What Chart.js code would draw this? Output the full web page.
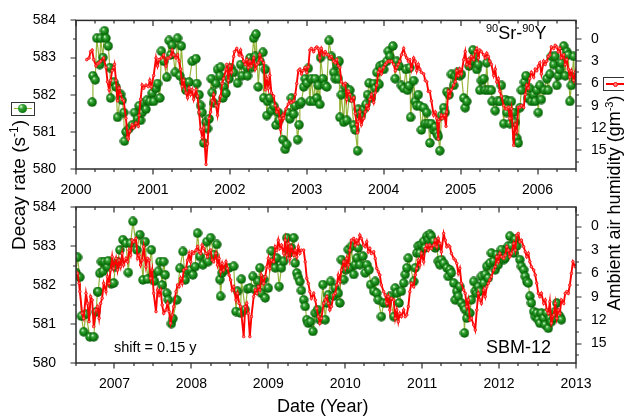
<!DOCTYPE html>
<html>
<head>
<meta charset="utf-8">
<script src="https://cdn.jsdelivr.net/npm/chart.js@4.4.1/dist/chart.umd.min.js"></script>
<style>
  body { margin: 0; background: #fff; }
  #wrap { position: relative; width: 624px; height: 420px; overflow: hidden; font-family: "Liberation Sans", Arial, sans-serif; color: #000; }
  canvas { position: absolute; left: 0; top: 0; }
  .txt { position: absolute; white-space: nowrap; line-height: 18px; font-size: 18px; }
  .rot { transform: translate(-50%, -50%) rotate(-90deg); }
  .sup { font-size: 11px; position: relative; top: -7px; }
</style>
</head>
<body>
<div id="wrap">
  <canvas id="chartBottom" width="624" height="420"></canvas>
  <canvas id="chartTop" width="624" height="420"></canvas>

  <div class="txt" style="left:486px; top:24px;"><span class="sup">90</span>Sr-<span class="sup">90</span>Y</div>
  <div class="txt" style="left:486px; top:338px;">SBM-12</div>
  <div class="txt" style="left:114px; top:340px; font-size:14.5px; line-height:15px;">shift = 0.15 y</div>
  <div class="txt" style="left:277px; top:397px;">Date (Year)</div>
  <div class="txt rot" style="left:20px; top:185px; font-size:19px; line-height:19px;">Decay rate (s<span class="sup" style="font-size:12px;">-1</span>)</div>
  <div class="txt rot" style="left:615px; top:203px;">Ambient air humidity (gm<span class="sup">-3</span>)</div>

  <div style="position:absolute; left:11px; top:102px; width:22px; height:12px; border:1px solid #333;">
    <div style="position:absolute; left:2px; right:2px; top:5px; height:1px; background:#95b53a;"></div>
    <div style="position:absolute; left:6px; top:1px; width:9px; height:9px; border-radius:50%; background:radial-gradient(circle at 35% 30%, #e8ffe0 0%, #3aa63a 25%, #0c7a0c 70%, #064f06 100%);"></div>
  </div>
  <div style="position:absolute; left:603px; top:77px; width:24px; height:12px; border:1px solid #333;">
    <div style="position:absolute; left:2px; right:0; top:5px; height:2px; background:#ff0000;"></div>
    <div style="position:absolute; left:9px; top:4px; width:3px; height:3px; border-radius:50%; border:1px solid #ff0000; background:#ff8080;"></div>
  </div>
</div>

<script>
// ---- tick labels ----
const topYears = [2000, 2001, 2002, 2003, 2004, 2005, 2006];
const botYears = [2007, 2008, 2009, 2010, 2011, 2012, 2013];
const rateTicks = [580, 581, 582, 583, 584];
const humTicks = [0, 3, 6, 9, 12, 15];

// ---- 90Sr-90Y decay rate, 2000 - 2006.5 ----
const topRateYear = [
  2000.21, 2000.22, 2000.25, 2000.27, 2000.31, 2000.32, 2000.35, 2000.37, 2000.39, 2000.42,
  2000.44, 2000.45, 2000.49, 2000.52, 2000.54, 2000.58, 2000.60, 2000.62, 2000.63, 2000.65,
  2000.69, 2000.73, 2000.76, 2000.80, 2000.82, 2000.84, 2000.86, 2000.88, 2000.91, 2000.92,
  2000.96, 2000.99, 2001.01, 2001.04, 2001.06, 2001.09, 2001.11, 2001.14, 2001.18, 2001.21,
  2001.23, 2001.25, 2001.29, 2001.32, 2001.35, 2001.37, 2001.40, 2001.43, 2001.47, 2001.51,
  2001.56, 2001.57, 2001.60, 2001.62, 2001.64, 2001.66, 2001.69, 2001.71, 2001.73, 2001.76,
  2001.77, 2001.79, 2001.82, 2001.84, 2001.87, 2001.88, 2001.91, 2001.92, 2001.95, 2001.99,
  2002.01, 2002.05, 2002.10, 2002.14, 2002.16, 2002.22, 2002.23, 2002.26, 2002.28, 2002.31,
  2002.33, 2002.34, 2002.37, 2002.39, 2002.43, 2002.44, 2002.46, 2002.48, 2002.49, 2002.52,
  2002.54, 2002.57, 2002.60, 2002.63, 2002.64, 2002.69, 2002.72, 2002.74, 2002.76, 2002.78,
  2002.80, 2002.83, 2002.85, 2002.88, 2002.90, 2002.91, 2002.93, 2002.96, 2002.98, 2003.00,
  2003.02, 2003.04, 2003.06, 2003.09, 2003.11, 2003.13, 2003.15, 2003.17, 2003.18, 2003.21,
  2003.24, 2003.26, 2003.29, 2003.32, 2003.35, 2003.37, 2003.39, 2003.41, 2003.42, 2003.43,
  2003.45, 2003.48, 2003.50, 2003.52, 2003.56, 2003.58, 2003.61, 2003.63, 2003.66, 2003.67,
  2003.69, 2003.71, 2003.74, 2003.77, 2003.79, 2003.81, 2003.84, 2003.87, 2003.89, 2003.91,
  2003.94, 2003.95, 2003.99, 2004.00, 2004.04, 2004.06, 2004.08, 2004.12, 2004.15, 2004.17,
  2004.20, 2004.23, 2004.26, 2004.29, 2004.31, 2004.33, 2004.34, 2004.35, 2004.39, 2004.41,
  2004.43, 2004.45, 2004.47, 2004.49, 2004.52, 2004.54, 2004.56, 2004.58, 2004.60, 2004.62,
  2004.65, 2004.67, 2004.69, 2004.71, 2004.73, 2004.75, 2004.78, 2004.80, 2004.82, 2004.85,
  2004.88, 2004.91, 2004.93, 2004.96, 2004.99, 2005.01, 2005.04, 2005.06, 2005.08, 2005.11,
  2005.14, 2005.16, 2005.19, 2005.21, 2005.23, 2005.25, 2005.27, 2005.30, 2005.32, 2005.34,
  2005.36, 2005.40, 2005.41, 2005.45, 2005.48, 2005.51, 2005.53, 2005.56, 2005.58, 2005.60,
  2005.62, 2005.64, 2005.66, 2005.69, 2005.71, 2005.73, 2005.75, 2005.77, 2005.79, 2005.83,
  2005.85, 2005.87, 2005.90, 2005.92, 2005.95, 2005.97, 2005.99, 2006.01, 2006.03, 2006.05,
  2006.09, 2006.12, 2006.14, 2006.16, 2006.18, 2006.21, 2006.23, 2006.25, 2006.27, 2006.29,
  2006.31, 2006.34, 2006.36, 2006.38, 2006.40, 2006.42, 2006.44, 2006.47, 2006.48
];
const topRate = [
  581.80, 582.51, 582.40, 583.52, 582.81, 583.52, 583.00, 583.72, 583.52, 583.31,
  582.73, 581.91, 582.34, 582.21, 581.39, 582.01, 581.85, 581.52, 580.75, 581.00,
  581.09, 581.18, 581.52, 581.35, 581.70, 581.31, 581.52, 581.78, 581.61, 581.85,
  581.82, 582.04, 581.82, 582.17, 582.30, 581.91, 583.17, 582.90, 582.47, 583.46,
  583.07, 583.33, 582.60, 583.52, 582.51, 583.31, 582.34, 582.12, 582.34, 582.90,
  582.97, 582.30, 582.00, 581.71, 581.52, 580.70, 581.26, 581.09, 581.35, 582.43,
  582.06, 581.78, 582.30, 582.68, 582.51, 582.74, 581.91, 582.21, 582.04, 582.43,
  582.73, 582.60, 582.31, 582.81, 582.51, 582.73, 582.51, 582.99, 582.73, 583.52,
  583.03, 583.63, 582.21, 582.90, 583.14, 581.91, 582.68, 581.44, 581.82, 581.91,
  581.57, 581.70, 581.18, 581.52, 581.31, 580.79, 580.53, 580.66, 581.52, 581.35,
  581.91, 581.48, 581.70, 580.79, 581.19, 581.74, 581.80, 582.21, 582.43, 582.31,
  582.71, 581.82, 582.43, 581.82, 582.43, 581.91, 582.25, 581.74, 583.00, 582.43,
  582.25, 582.21, 583.46, 583.03, 582.60, 582.43, 582.81, 582.43, 582.90, 581.39,
  582.00, 581.26, 582.21, 581.31, 582.12, 581.91, 581.18, 581.05, 580.49, 581.61,
  581.48, 581.44, 581.61, 581.74, 582.00, 582.31, 581.91, 582.30, 582.17, 582.60,
  582.28, 582.77, 582.81, 582.68, 582.90, 583.17, 583.03, 583.31, 582.43, 582.90,
  582.77, 582.25, 582.17, 582.68, 582.12, 582.24, 582.73, 581.39, 582.38, 581.82,
  581.70, 582.00, 581.70, 581.05, 581.65, 581.22, 581.52, 581.22, 580.70, 581.22,
  581.05, 581.13, 580.96, 580.88, 580.49, 581.44, 581.65, 581.52, 582.08, 582.00,
  582.55, 582.25, 582.51, 582.60, 582.51, 582.55, 581.91, 581.65, 581.82, 582.77,
  582.90, 583.20, 583.03, 582.68, 582.81, 582.12, 582.38, 582.43, 582.12, 582.86,
  582.12, 582.12, 581.82, 581.57, 581.82, 581.82, 582.25, 581.22, 581.87, 581.52,
  581.82, 581.22, 581.82, 581.52, 581.26, 580.83, 580.70, 581.65, 582.12, 582.34,
  582.51, 581.91, 582.17, 581.82, 582.00, 581.82, 582.12, 581.52, 582.25, 581.87,
  582.12, 582.43, 582.12, 582.55, 583.03, 582.81, 583.03, 582.25, 582.51, 582.68,
  582.86, 583.31, 582.51, 583.16, 583.07, 581.82, 582.25, 583.03, 582.47
];

// ---- ambient air humidity (g m^-3), 2000 - 2006.5 ----
const topHumYear = [
  2000.14, 2000.17, 2000.19, 2000.21, 2000.23, 2000.26, 2000.28, 2000.30, 2000.32, 2000.36,
  2000.39, 2000.41, 2000.43, 2000.45, 2000.47, 2000.49, 2000.50, 2000.52, 2000.54, 2000.56,
  2000.58, 2000.60, 2000.62, 2000.65, 2000.67, 2000.68, 2000.70, 2000.73, 2000.75, 2000.78,
  2000.81, 2000.82, 2000.84, 2000.86, 2000.88, 2000.91, 2000.94, 2000.96, 2000.98, 2001.01,
  2001.04, 2001.06, 2001.08, 2001.11, 2001.14, 2001.17, 2001.19, 2001.21, 2001.23, 2001.25,
  2001.27, 2001.30, 2001.32, 2001.34, 2001.36, 2001.38, 2001.40, 2001.43, 2001.45, 2001.47,
  2001.49, 2001.51, 2001.53, 2001.56, 2001.58, 2001.60, 2001.62, 2001.64, 2001.66, 2001.69,
  2001.71, 2001.73, 2001.75, 2001.77, 2001.79, 2001.82, 2001.84, 2001.86, 2001.88, 2001.90,
  2001.92, 2001.95, 2001.96, 2001.98, 2002.00, 2002.02, 2002.05, 2002.06, 2002.09, 2002.12,
  2002.14, 2002.16, 2002.18, 2002.20, 2002.22, 2002.24, 2002.26, 2002.28, 2002.31, 2002.33,
  2002.35, 2002.37, 2002.39, 2002.41, 2002.44, 2002.46, 2002.48, 2002.50, 2002.52, 2002.54,
  2002.57, 2002.59, 2002.61, 2002.63, 2002.65, 2002.66, 2002.69, 2002.70, 2002.73, 2002.76,
  2002.78, 2002.80, 2002.83, 2002.85, 2002.87, 2002.89, 2002.91, 2002.93, 2002.95, 2002.98,
  2003.00, 2003.02, 2003.04, 2003.06, 2003.09, 2003.11, 2003.13, 2003.15, 2003.17, 2003.19,
  2003.22, 2003.24, 2003.26, 2003.28, 2003.30, 2003.32, 2003.35, 2003.37, 2003.39, 2003.41,
  2003.43, 2003.45, 2003.48, 2003.50, 2003.52, 2003.54, 2003.56, 2003.58, 2003.61, 2003.63,
  2003.65, 2003.66, 2003.67, 2003.69, 2003.71, 2003.74, 2003.76, 2003.78, 2003.80, 2003.82,
  2003.84, 2003.87, 2003.89, 2003.91, 2003.93, 2003.95, 2003.97, 2004.00, 2004.02, 2004.04,
  2004.06, 2004.08, 2004.10, 2004.13, 2004.15, 2004.17, 2004.19, 2004.21, 2004.23, 2004.26,
  2004.28, 2004.30, 2004.32, 2004.34, 2004.36, 2004.39, 2004.41, 2004.43, 2004.45, 2004.47,
  2004.49, 2004.52, 2004.54, 2004.56, 2004.58, 2004.60, 2004.62, 2004.65, 2004.67, 2004.69,
  2004.71, 2004.72, 2004.75, 2004.76, 2004.79, 2004.81, 2004.82, 2004.84, 2004.86, 2004.88,
  2004.91, 2004.93, 2004.95, 2004.97, 2004.99, 2005.01, 2005.04, 2005.06, 2005.08, 2005.10,
  2005.12, 2005.14, 2005.17, 2005.19, 2005.21, 2005.23, 2005.25, 2005.27, 2005.30, 2005.32,
  2005.34, 2005.36, 2005.38, 2005.40, 2005.43, 2005.45, 2005.47, 2005.49, 2005.51, 2005.53,
  2005.56, 2005.58, 2005.60, 2005.62, 2005.64, 2005.66, 2005.69, 2005.71, 2005.73, 2005.75,
  2005.77, 2005.79, 2005.82, 2005.84, 2005.86, 2005.88, 2005.90, 2005.92, 2005.95, 2005.97,
  2005.99, 2006.01, 2006.03, 2006.05, 2006.08, 2006.10, 2006.12, 2006.14, 2006.16, 2006.18,
  2006.21, 2006.23, 2006.25, 2006.27, 2006.29, 2006.31, 2006.34, 2006.36, 2006.38, 2006.40,
  2006.42, 2006.44, 2006.47, 2006.49, 2006.51
];
const topHum = [
  2.78, 2.56, 1.71, 1.50, 2.78, 3.63, 3.33, 3.21, 2.99, 2.56,
  3.85, 5.77, 6.84, 5.56, 4.27, 3.85, 3.42, 5.56, 8.33, 6.62,
  7.48, 8.12, 8.33, 10.68, 13.25, 13.46, 12.39, 11.54, 11.97, 11.32,
  11.75, 10.26, 8.12, 6.20, 6.62, 6.20, 6.41, 5.56, 6.41, 4.91,
  2.56, 3.63, 2.78, 2.56, 2.14, 3.63, 2.56, 2.56, 2.35, 1.50,
  2.14, 2.56, 2.14, 2.99, 4.06, 6.41, 5.56, 7.26, 7.91, 6.62,
  7.48, 6.84, 8.12, 6.84, 7.69, 9.83, 12.18, 13.25, 11.97, 16.88,
  14.10, 10.68, 9.83, 8.33, 7.48, 8.97, 10.26, 8.55, 7.69, 5.98,
  5.34, 4.06, 3.42, 5.56, 3.63, 4.49, 2.35, 1.71, 1.28, 2.14,
  1.50, 2.35, 2.99, 3.42, 2.78, 3.85, 2.99, 3.63, 2.56, 4.06,
  3.42, 3.21, 2.14, 2.78, 3.21, 6.84, 5.34, 6.62, 4.91, 7.26,
  7.69, 8.97, 9.83, 9.40, 10.68, 12.18, 10.26, 10.68, 9.40, 8.76,
  8.33, 8.55, 8.33, 7.48, 5.98, 4.27, 4.06, 4.70, 4.27, 3.85,
  4.49, 3.76, 1.50, 1.28, 1.71, 1.28, 1.07, 1.28, 2.56, 1.28,
  2.14, 1.71, 2.05, 2.14, 2.56, 2.35, 2.99, 3.21, 2.78, 3.63,
  3.85, 5.77, 6.20, 5.98, 8.12, 7.05, 7.48, 8.33, 7.91, 10.04,
  11.54, 12.61, 11.11, 9.83, 11.54, 10.68, 9.83, 8.97, 9.40, 8.12,
  7.48, 8.55, 7.26, 6.20, 4.49, 4.06, 4.70, 3.85, 3.42, 3.21,
  2.99, 2.99, 2.99, 3.42, 4.27, 3.85, 3.42, 2.99, 2.14, 1.28,
  2.14, 2.56, 2.99, 2.78, 4.06, 2.56, 2.99, 4.27, 3.42, 4.06,
  4.49, 4.70, 5.56, 5.77, 7.05, 7.05, 8.33, 10.26, 9.83, 10.68,
  13.46, 11.11, 10.26, 10.68, 10.26, 11.75, 9.83, 7.05, 7.69, 6.84,
  6.20, 5.77, 4.27, 4.91, 4.06, 4.70, 2.78, 1.71, 3.42, 2.78,
  3.63, 2.35, 2.78, 1.71, 1.28, 2.56, 1.50, 1.71, 2.14, 2.56,
  1.92, 2.35, 2.99, 3.42, 4.91, 4.06, 5.77, 5.34, 7.05, 7.69,
  8.97, 9.40, 9.40, 9.19, 10.68, 9.40, 14.32, 11.54, 12.39, 9.19,
  9.19, 8.97, 9.19, 7.48, 6.20, 6.62, 5.34, 4.49, 5.13, 4.06,
  4.27, 3.63, 3.21, 4.70, 2.99, 3.42, 2.99, 2.35, 2.14, 1.07,
  1.28, 0.85, 1.07, 1.71, 1.28, 2.56, 2.14, 3.42, 2.78, 4.06,
  5.13, 4.27, 5.56, 4.49, 5.98
];

// ---- SBM-12 decay rate, 2006.5 - 2013 ----
const botRateYear = [
  2006.50, 2006.52, 2006.55, 2006.57, 2006.60, 2006.63, 2006.68, 2006.73, 2006.76, 2006.78,
  2006.79, 2006.81, 2006.83, 2006.85, 2006.87, 2006.91, 2006.92, 2006.96, 2006.99, 2007.01,
  2007.04, 2007.07, 2007.11, 2007.15, 2007.18, 2007.21, 2007.24, 2007.29, 2007.33, 2007.37,
  2007.40, 2007.43, 2007.48, 2007.50, 2007.52, 2007.57, 2007.59, 2007.62, 2007.64, 2007.66,
  2007.68, 2007.70, 2007.74, 2007.76, 2007.81, 2007.85, 2007.89, 2007.92, 2007.96, 2007.99,
  2008.02, 2008.05, 2008.08, 2008.11, 2008.15, 2008.20, 2008.22, 2008.25, 2008.29, 2008.33,
  2008.37, 2008.38, 2008.40, 2008.44, 2008.49, 2008.55, 2008.58, 2008.60, 2008.64, 2008.65,
  2008.70, 2008.73, 2008.76, 2008.80, 2008.83, 2008.87, 2008.89, 2008.91, 2008.94, 2008.96,
  2009.00, 2009.04, 2009.07, 2009.09, 2009.11, 2009.14, 2009.17, 2009.20, 2009.24, 2009.27,
  2009.30, 2009.33, 2009.35, 2009.37, 2009.39, 2009.41, 2009.43, 2009.46, 2009.48, 2009.50,
  2009.52, 2009.55, 2009.58, 2009.61, 2009.64, 2009.67, 2009.71, 2009.74, 2009.76, 2009.78,
  2009.81, 2009.85, 2009.87, 2009.91, 2009.93, 2009.95, 2009.98, 2010.01, 2010.04, 2010.06,
  2010.08, 2010.11, 2010.13, 2010.15, 2010.17, 2010.19, 2010.23, 2010.26, 2010.28, 2010.31,
  2010.33, 2010.37, 2010.39, 2010.41, 2010.43, 2010.47, 2010.50, 2010.54, 2010.58, 2010.63,
  2010.65, 2010.67, 2010.70, 2010.73, 2010.76, 2010.78, 2010.80, 2010.82, 2010.89, 2010.91,
  2010.93, 2010.95, 2010.97, 2010.99, 2011.02, 2011.04, 2011.06, 2011.08, 2011.10, 2011.12,
  2011.15, 2011.17, 2011.19, 2011.21, 2011.23, 2011.25, 2011.28, 2011.32, 2011.34, 2011.36,
  2011.38, 2011.41, 2011.43, 2011.45, 2011.47, 2011.49, 2011.51, 2011.54, 2011.55, 2011.56,
  2011.58, 2011.62, 2011.64, 2011.67, 2011.69, 2011.71, 2011.73, 2011.75, 2011.77, 2011.80,
  2011.82, 2011.84, 2011.86, 2011.88, 2011.90, 2011.93, 2011.95, 2011.97, 2011.99, 2012.01,
  2012.03, 2012.06, 2012.08, 2012.10, 2012.12, 2012.14, 2012.16, 2012.19, 2012.21, 2012.23,
  2012.27, 2012.29, 2012.32, 2012.34, 2012.36, 2012.38, 2012.40, 2012.42, 2012.45, 2012.47,
  2012.49, 2012.51, 2012.53, 2012.55, 2012.58, 2012.60, 2012.62, 2012.64, 2012.66, 2012.68,
  2012.71, 2012.73, 2012.75, 2012.77, 2012.79, 2012.81
];
const botRate = [
  582.32, 582.71, 582.20, 581.20, 580.80, 581.25, 580.67, 580.67, 581.31, 581.83,
  581.83, 582.30, 582.60, 582.35, 582.60, 582.47, 582.62, 582.03, 582.05, 582.47,
  582.60, 582.90, 583.16, 583.07, 582.32, 583.07, 583.63, 582.90, 583.29, 582.13,
  583.11, 582.15, 582.90, 582.26, 582.10, 582.35, 582.60, 582.00, 582.60, 582.26,
  581.79, 581.62, 581.01, 581.14, 581.62, 582.43, 582.86, 582.13, 582.35, 582.39,
  582.26, 582.47, 583.33, 582.73, 582.52, 583.11, 582.60, 583.21, 582.78, 583.04,
  582.14, 581.71, 582.31, 582.39, 582.44, 582.48, 581.32, 581.84, 581.28, 582.15,
  581.37, 581.90, 581.92, 582.22, 581.88, 582.09, 582.44, 581.79, 582.14, 581.67,
  581.92, 582.87, 582.61, 582.44, 582.69, 581.96, 582.44, 582.61, 583.21, 582.82,
  582.95, 583.21, 582.56, 582.31, 582.20, 582.09, 581.86, 581.62, 581.45, 581.11,
  581.02, 581.06, 580.81, 581.28, 581.37, 581.11, 582.01, 581.11, 581.54, 581.75,
  582.09, 581.71, 581.92, 581.79, 581.54, 582.65, 582.14, 582.39, 582.91, 582.44,
  582.99, 582.27, 582.52, 582.69, 582.95, 582.52, 582.74, 582.31, 582.52, 582.39,
  582.01, 581.84, 582.09, 581.79, 581.62, 581.19, 581.54, 581.54, 581.71, 581.19,
  581.92, 581.79, 581.54, 581.84, 582.05, 582.27, 582.44, 582.69, 582.09, 582.44,
  582.82, 583.00, 582.82, 583.04, 583.12, 582.95, 583.25, 583.17, 583.30, 583.25,
  583.12, 582.95, 583.00, 582.61, 582.52, 582.65, 582.56, 582.44, 582.22, 582.39,
  582.31, 582.05, 581.62, 581.84, 581.71, 581.96, 581.54, 581.45, 580.77, 581.37,
  581.15, 581.28, 581.62, 582.09, 581.84, 581.79, 581.96, 581.84, 582.22, 582.05,
  582.27, 582.48, 582.18, 582.56, 582.82, 582.61, 582.39, 582.78, 582.52, 582.69,
  582.91, 582.65, 582.69, 582.91, 583.00, 583.25, 583.00, 582.82, 583.17, 583.00,
  582.65, 582.48, 582.39, 582.22, 582.09, 582.05, 581.71, 581.54, 581.32, 581.19,
  581.28, 581.11, 581.02, 581.28, 581.15, 580.98, 581.28, 580.89, 581.15, 581.06,
  581.15, 581.32, 581.54, 581.24, 581.19, 581.11
];

// ---- ambient air humidity (g m^-3), 2006.5 - 2013 ----
const botHumYear = [
  2006.50, 2006.52, 2006.54, 2006.55, 2006.58, 2006.60, 2006.63, 2006.65, 2006.67, 2006.69,
  2006.71, 2006.73, 2006.76, 2006.78, 2006.80, 2006.82, 2006.84, 2006.86, 2006.89, 2006.91,
  2006.93, 2006.95, 2006.97, 2006.99, 2007.02, 2007.04, 2007.06, 2007.08, 2007.10, 2007.12,
  2007.15, 2007.17, 2007.19, 2007.21, 2007.23, 2007.25, 2007.28, 2007.30, 2007.32, 2007.34,
  2007.36, 2007.38, 2007.41, 2007.43, 2007.45, 2007.47, 2007.49, 2007.51, 2007.54, 2007.56,
  2007.58, 2007.60, 2007.62, 2007.64, 2007.67, 2007.69, 2007.71, 2007.73, 2007.75, 2007.77,
  2007.80, 2007.82, 2007.84, 2007.86, 2007.88, 2007.90, 2007.93, 2007.95, 2007.97, 2007.99,
  2008.01, 2008.03, 2008.06, 2008.08, 2008.10, 2008.12, 2008.14, 2008.16, 2008.19, 2008.21,
  2008.23, 2008.25, 2008.27, 2008.29, 2008.32, 2008.34, 2008.36, 2008.38, 2008.40, 2008.42,
  2008.45, 2008.47, 2008.49, 2008.51, 2008.53, 2008.55, 2008.58, 2008.60, 2008.62, 2008.64,
  2008.68, 2008.70, 2008.72, 2008.74, 2008.76, 2008.78, 2008.81, 2008.83, 2008.85, 2008.87,
  2008.89, 2008.91, 2008.94, 2008.96, 2008.98, 2009.00, 2009.02, 2009.04, 2009.07, 2009.09,
  2009.11, 2009.13, 2009.15, 2009.17, 2009.20, 2009.22, 2009.24, 2009.26, 2009.28, 2009.30,
  2009.33, 2009.35, 2009.37, 2009.39, 2009.41, 2009.43, 2009.46, 2009.48, 2009.50, 2009.52,
  2009.54, 2009.56, 2009.59, 2009.61, 2009.63, 2009.65, 2009.67, 2009.69, 2009.72, 2009.74,
  2009.76, 2009.78, 2009.80, 2009.82, 2009.85, 2009.87, 2009.89, 2009.91, 2009.93, 2009.95,
  2009.98, 2010.00, 2010.02, 2010.04, 2010.06, 2010.08, 2010.11, 2010.13, 2010.15, 2010.17,
  2010.19, 2010.21, 2010.24, 2010.26, 2010.28, 2010.30, 2010.32, 2010.34, 2010.37, 2010.39,
  2010.41, 2010.43, 2010.45, 2010.47, 2010.50, 2010.52, 2010.54, 2010.56, 2010.58, 2010.60,
  2010.63, 2010.65, 2010.67, 2010.69, 2010.71, 2010.73, 2010.76, 2010.78, 2010.80, 2010.82,
  2010.84, 2010.86, 2010.89, 2010.91, 2010.93, 2010.95, 2010.97, 2010.99, 2011.02, 2011.04,
  2011.06, 2011.08, 2011.10, 2011.12, 2011.15, 2011.17, 2011.19, 2011.21, 2011.23, 2011.25,
  2011.28, 2011.30, 2011.32, 2011.34, 2011.36, 2011.38, 2011.41, 2011.43, 2011.45, 2011.47,
  2011.49, 2011.51, 2011.54, 2011.56, 2011.58, 2011.60, 2011.62, 2011.64, 2011.67, 2011.69,
  2011.71, 2011.73, 2011.75, 2011.77, 2011.80, 2011.82, 2011.84, 2011.86, 2011.88, 2011.90,
  2011.93, 2011.95, 2011.97, 2011.99, 2012.01, 2012.03, 2012.06, 2012.08, 2012.10, 2012.12,
  2012.14, 2012.16, 2012.19, 2012.21, 2012.23, 2012.25, 2012.27, 2012.29, 2012.32, 2012.34,
  2012.36, 2012.38, 2012.40, 2012.42, 2012.45, 2012.47, 2012.49, 2012.51, 2012.53, 2012.55,
  2012.58, 2012.60, 2012.62, 2012.64, 2012.66, 2012.68, 2012.71, 2012.73, 2012.75, 2012.77,
  2012.79, 2012.81, 2012.84, 2012.86, 2012.88, 2012.90, 2012.92, 2012.94, 2012.96, 2012.99,
  2013.01
];
const botHum = [
  5.80, 6.01, 7.29, 8.35, 11.12, 11.76, 8.57, 9.85, 12.19, 8.99,
  9.42, 12.83, 10.70, 10.27, 11.76, 9.85, 9.21, 7.29, 8.35, 6.44,
  7.29, 5.58, 3.88, 5.37, 4.09, 5.58, 4.31, 5.16, 3.45, 4.94,
  4.09, 4.52, 3.03, 3.67, 1.75, 1.96, 1.53, 4.09, 3.67, 4.94,
  4.31, 2.60, 5.16, 4.09, 4.31, 6.65, 5.58, 8.57, 10.91, 8.14,
  8.78, 8.14, 10.06, 11.13, 10.70, 9.85, 10.91, 12.40, 11.34, 10.27,
  8.35, 7.50, 7.72, 6.65, 7.29, 5.58, 5.37, 4.31, 3.45, 4.52,
  3.24, 3.45, 3.03, 2.60, 3.24, 3.45, 2.39, 2.81, 3.45, 3.88,
  3.24, 3.03, 4.31, 4.52, 3.45, 4.94, 4.09, 5.80, 4.73, 5.58,
  4.52, 5.37, 6.22, 6.86, 8.14, 7.72, 9.42, 8.57, 9.85, 10.27,
  14.11, 10.27, 9.85, 11.13, 14.11, 11.55, 8.99, 8.14, 8.57, 7.72,
  8.14, 6.22, 7.29, 6.44, 5.16, 4.09, 5.37, 4.31, 4.52, 2.60,
  3.03, 1.75, 2.81, 2.39, 3.45, 1.75, 3.67, 2.17, 4.09, 2.60,
  3.67, 3.03, 3.88, 2.60, 3.45, 3.03, 3.03, 4.52, 6.65, 7.29,
  8.35, 9.21, 8.57, 9.42, 10.49, 11.55, 12.40, 11.76, 9.85, 9.42,
  8.99, 9.85, 10.70, 10.27, 8.78, 8.57, 7.50, 6.22, 7.08, 5.58,
  4.52, 5.37, 4.09, 4.94, 3.03, 1.75, 1.53, 2.39, 1.75, 2.17,
  1.11, 1.53, 2.39, 2.60, 1.96, 3.24, 2.81, 3.45, 3.24, 4.09,
  5.37, 5.80, 6.22, 7.50, 8.35, 8.78, 9.85, 8.99, 10.70, 9.21,
  9.42, 11.76, 10.70, 12.19, 11.13, 11.55, 10.70, 11.55, 11.34, 10.27,
  8.35, 7.29, 7.72, 6.22, 5.37, 4.31, 4.94, 3.45, 4.52, 2.81,
  2.39, 3.03, 2.39, 2.81, 2.39, 1.75, 2.60, 1.53, 2.17, 3.24,
  0.90, 1.75, 2.60, 2.39, 2.60, 3.45, 4.09, 4.31, 4.73, 6.01,
  5.37, 7.29, 8.14, 8.57, 10.27, 9.42, 11.98, 11.76, 12.62, 13.26,
  10.70, 8.57, 9.42, 9.85, 8.14, 8.99, 7.72, 7.29, 6.86, 6.44,
  5.58, 5.16, 3.88, 4.52, 3.45, 3.88, 4.09, 3.67, 2.60, 3.03,
  3.88, 3.45, 2.17, 3.03, 1.11, 0.90, 1.96, 1.75, 2.60, 3.24,
  3.88, 3.45, 4.52, 5.16, 5.58, 6.22, 7.29, 8.57, 8.99, 8.57,
  9.85, 9.42, 10.70, 11.13, 9.63, 12.40, 11.34, 9.85, 11.76, 10.70,
  11.13, 9.42, 9.85, 8.57, 8.35, 8.57, 7.50, 6.01, 4.52, 5.16,
  4.94
];

const FONT = '"Liberation Sans", Arial, sans-serif';
Chart.defaults.font.family = FONT;
Chart.defaults.font.size = 14;
Chart.defaults.color = '#000';

// shaded ball used as the marker of the decay-rate series
function makeBall() {
  const c = document.createElement('canvas');
  c.width = 10; c.height = 10;
  const g = c.getContext('2d');
  const gr = g.createRadialGradient(3.6, 3.3, 0.3, 5, 5, 5);
  gr.addColorStop(0, '#e8ffe0');
  gr.addColorStop(0.25, '#3aa63a');
  gr.addColorStop(0.7, '#0c7a0c');
  gr.addColorStop(1, '#064f06');
  g.fillStyle = gr;
  g.beginPath();
  g.arc(5, 5, 4.7, 0, Math.PI * 2);
  g.fill();
  return c;
}
const ball = makeBall();

function pairs(xs, ys) {
  return xs.map((x, i) => ({ x: x, y: ys[i] }));
}

// frame + major/minor tick marks
const frameTicks = {
  id: 'frameTicks',
  afterDraw(chart) {
    const { ctx, chartArea: a, scales } = chart;
    const x = scales.x, yL = scales.yL, yR = scales.yR;
    ctx.save();
    ctx.strokeStyle = '#2b2b2b';
    ctx.lineWidth = 1.5;
    ctx.strokeRect(a.left, a.top, a.right - a.left, a.bottom - a.top);
    ctx.lineWidth = 1.2;
    ctx.beginPath();
    for (let q = Math.ceil(x.min * 4 - 1e-6); q <= Math.floor(x.max * 4 + 1e-6); q++) {
      const px = Math.round(x.getPixelForValue(q / 4));
      const len = q % 4 === 0 ? 5.5 : 3;
      ctx.moveTo(px, a.bottom); ctx.lineTo(px, a.bottom + len);
      ctx.moveTo(px, a.top); ctx.lineTo(px, a.top + len);
    }
    for (let h = Math.ceil(yL.min * 2); h <= Math.floor(yL.max * 2); h++) {
      const py = Math.round(yL.getPixelForValue(h / 2));
      const len = h % 2 === 0 ? 5.5 : 3;
      ctx.moveTo(a.left, py); ctx.lineTo(a.left - len, py);
    }
    for (let k = Math.ceil(yR.min / 1.5); k * 1.5 <= yR.max; k++) {
      const py = Math.round(yR.getPixelForValue(k * 1.5));
      const len = k % 2 === 0 ? 5.5 : 3;
      ctx.moveTo(a.right, py); ctx.lineTo(a.right + len, py);
    }
    ctx.stroke();
    ctx.restore();
  }
};

function makePanel(canvasId, rateYear, rate, humYear, hum, xMin, xMax, yearTicks, top, bottom) {
  return new Chart(document.getElementById(canvasId), {
    type: 'line',
    data: {
      datasets: [
        {
          label: 'humidity',
          data: pairs(humYear, hum),
          yAxisID: 'yR',
          borderColor: '#ff0000',
          borderWidth: 1.9,
          pointRadius: 1.3,
          pointBorderWidth: 0.8,
          pointBorderColor: '#ff0000',
          pointBackgroundColor: '#ff8080',
          order: 0
        },
        {
          label: 'decay rate',
          data: pairs(rateYear, rate),
          yAxisID: 'yL',
          borderColor: '#95b53a',
          borderWidth: 1.2,
          pointStyle: ball,
          pointRadius: 4.5,
          order: 1
        }
      ]
    },
    options: {
      responsive: false,
      animation: false,
      events: [],
      layout: { padding: { top: top, left: 0, right: 0, bottom: 0 } },
      plugins: { legend: { display: false }, tooltip: { enabled: false } },
      scales: {
        x: {
          type: 'linear', min: xMin, max: xMax,
          afterBuildTicks: s => { s.ticks = yearTicks.map(v => ({ value: v })); },
          afterFit: s => { s.height = 420 - bottom; },
          grid: { display: false },
          border: { display: false },
          ticks: { padding: 5, callback: v => String(v), maxRotation: 0, autoSkip: false }
        },
        yL: {
          type: 'linear', position: 'left', min: 580, max: 584,
          afterBuildTicks: s => { s.ticks = rateTicks.map(v => ({ value: v })); },
          afterFit: s => { s.width = 76; },
          grid: { display: false },
          border: { display: false },
          ticks: { padding: 12 }
        },
        yR: {
          type: 'linear', position: 'right', min: -2.5, max: 17.5, reverse: true,
          afterBuildTicks: s => { s.ticks = humTicks.map(v => ({ value: v })); },
          afterFit: s => { s.width = 48; },
          grid: { display: false },
          border: { display: false },
          ticks: { padding: 7 }
        }
      }
    },
    plugins: [frameTicks]
  });
}

makePanel('chartTop', topRateYear, topRate, topHumYear, topHum, 2000, 2006.5, topYears, 14, 169);
makePanel('chartBottom', botRateYear, botRate, botHumYear, botHum, 2006.5, 2013, botYears, 207, 363);
</script>
</body>
</html>
